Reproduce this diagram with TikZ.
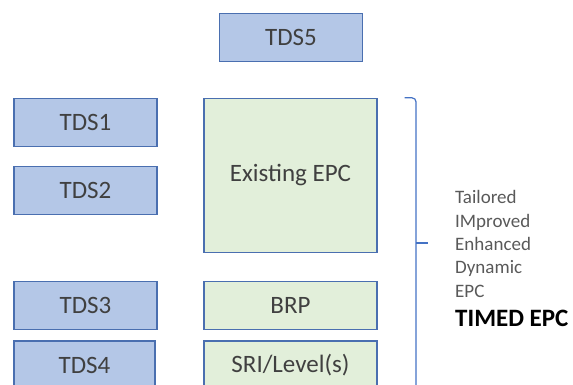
\documentclass[tikz,border=0pt]{standalone}
\usepackage{fontspec}
\setmainfont{Carlito}
\usetikzlibrary{positioning}
\definecolor{tdsfill}{HTML}{B4C7E7}
\definecolor{epcfill}{HTML}{E2EFDA}
\definecolor{boxline}{HTML}{4A6FB0}
\definecolor{bracecol}{HTML}{4472C4}
\definecolor{boxtext}{HTML}{404040}
\definecolor{sidetext}{HTML}{595959}

\begin{document}
\begin{tikzpicture}[
  x=1pt, y=-1pt,
  box/.style={draw=boxline,line width=1.4pt,minimum width=143pt,minimum height=48pt,inner sep=0pt,font=\fontsize{25}{30}\selectfont,text=boxtext},
  tds/.style={box,fill=tdsfill},
  epcbox/.style={box,fill=epcfill,minimum width=173pt},
  side/.style={anchor=base west,inner sep=0pt,font=\fontsize{19}{23}\selectfont,text=sidetext}
]
\clip (0,0) rectangle (573,385);
% left column
\node[tds] (tds5) at (291,37.5) {TDS5};
\node[tds] (tds1) at (85.5,122.5) {TDS1};
\node[tds] (tds2) at (85.5,190.5) {TDS2};
\node[tds] (tds3) at (85.5,305.5) {TDS3};
\node[tds,minimum width=141pt] (tds4) at (84.5,365) {TDS4};
% middle column
\node[epcbox,minimum height=154pt] (epc) at (290.5,175.5) {Existing EPC};
\node[epcbox] (brp) at (290.5,305.5) {BRP};
\node[epcbox] (sri) at (290.5,365) {SRI/Level(s)};
% brace
\coordinate (btop) at ([xshift=27pt]epc.north east);
\coordinate (btip) at (428,243);
\draw[bracecol,line width=1.2pt,rounded corners=4pt] (btop) -| (416,420);
\draw[bracecol,line width=1.2pt] (416,243) -- (btip);
% acronym
\foreach \w/\y [count=\i] in {Tailored/203,IMproved/227,Enhanced/250.5,Dynamic/273.5,EPC/297}
  \node[side] (w\i) at (455,\y) {\w};
\node[side,font=\fontsize{25}{30}\bfseries,text=black] (timed) at (455,326) {TIMED EPC};
\end{tikzpicture}
\end{document}
